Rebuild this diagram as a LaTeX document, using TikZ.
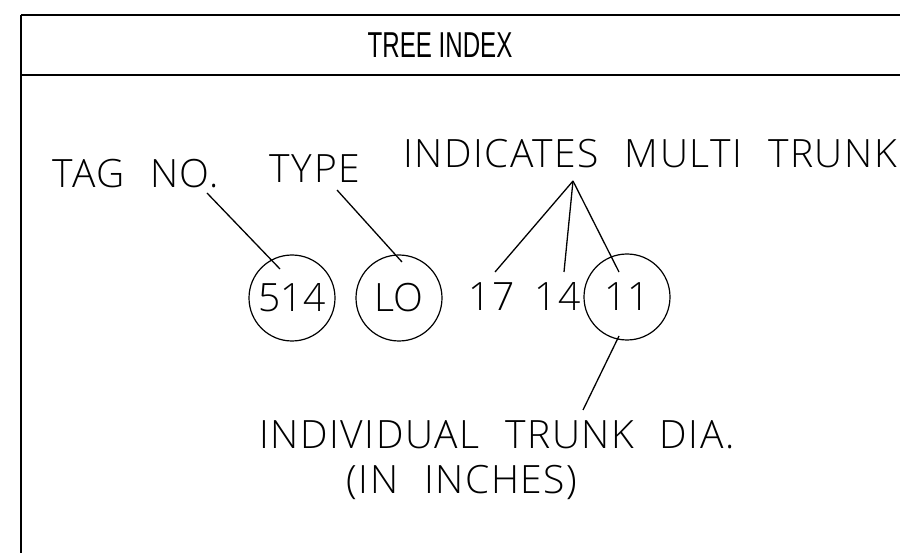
\documentclass[tikz,border=0pt]{standalone}
\usepackage{fontspec}
\setmainfont{Open Sans}[UprightFont=* Light]
\newfontfamily\spacedfont{Open Sans}[UprightFont=* Light,LetterSpace=4,WordSpace=2.2]
\newfontfamily\titlefont{Liberation Sans}
\begin{document}
\begin{tikzpicture}[x=1pt,y=-1pt,
  lbl/.style={inner sep=0pt,font=\spacedfont\fontsize{39}{39}\selectfont},
  ring/.style={draw,circle,line width=1.2pt,minimum size=86pt,inner sep=0pt,font=\fontsize{39}{39}\selectfont},
  leader/.style={line width=1.3pt},
  frame/.style={line width=2pt}]
\useasboundingbox (0,0) rectangle (900,553);
\begin{scope}
\clip (0,0) rectangle (900,553);
% table frame and header rule
\draw[frame] (21,15) -- (21,570) (21,15) -- (910,15);
\draw[frame] (21,75) -- (910,75);
\end{scope}
\node[inner sep=0pt] (title) at (440,45) {\scalebox{0.67}[1]{\titlefont\fontsize{36}{36}\selectfont TREE INDEX}};

% labels
\node[lbl] (tag) at (136,174) {TAG NO.};
\node[lbl] (type) at (315,169) {TYPE};
\node[lbl] (multi) at (650,154) {INDICATES MULTI TRUNK};
\node[lbl] (indiv) at (497,435) {INDIVIDUAL TRUNK DIA.};
\node[lbl] (inches) at (462,482) {(IN INCHES)};

% tag row
\node[ring] (c514) at (292,298) {514};
\node[ring] (cLO) at (399,298) {LO};
\node[lbl] (d17) at (492,297) {17};
\node[lbl] (d14) at (558,297) {14};
\node[ring] (c11) at (627,297) {11};

% leader end points
\coordinate (tagA) at (207,193);
\coordinate (tagB) at (280,269);
\coordinate (typeA) at (337,190);
\coordinate (typeB) at (402,262);
\coordinate (apex) at (573,181);
\coordinate (t17) at (495,272);
\coordinate (t14) at (564,272);
\coordinate (t11) at (619,272);
\coordinate (diaA) at (619,336);
\coordinate (diaB) at (583,410);

\draw[leader] (tagA) -- (tagB);
\draw[leader] (typeA) -- (typeB);
\draw[leader] (apex) -- (t17);
\draw[leader] (apex) -- (t14);
\draw[leader] (apex) -- (t11);
\draw[leader] (diaA) -- (diaB);
\end{tikzpicture}
\end{document}
